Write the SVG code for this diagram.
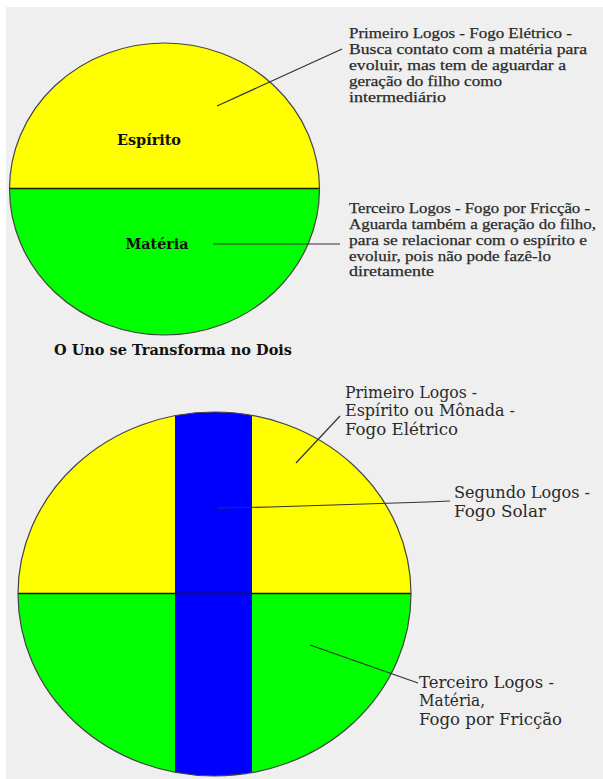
<svg xmlns="http://www.w3.org/2000/svg" width="603" height="779" viewBox="0 0 603 779">
  <style>
    .note { font-family: "Liberation Serif", "DejaVu Serif", serif; font-size: 15px; fill: #2a2a2a; stroke: #2a2a2a; stroke-width: 0.25; }
    .big { font-family: "DejaVu Serif", "Liberation Serif", serif; font-size: 16px; fill: #2a2a2a; }
    .bold { font-family: "DejaVu Serif", "Liberation Serif", serif; font-size: 14px; font-weight: bold; fill: #111; }
    .outline { fill: none; stroke: #444; stroke-width: 1.2; }
    .divider { stroke: #1a1a00; stroke-width: 1.5; }
    .leader { stroke: #333; stroke-width: 1.2; fill: none; }
  </style>
  <defs>
    <clipPath id="topClip"><ellipse cx="164.5" cy="189" rx="155" ry="146"/></clipPath>
    <clipPath id="botClip"><ellipse cx="214.5" cy="594" rx="196.5" ry="182"/></clipPath>
  </defs>
  <rect x="0" y="0" width="603" height="779" fill="#ffffff"/>
  <rect x="6" y="7" width="597" height="772" fill="#efefef"/>

  <g id="top-circle">
    <g clip-path="url(#topClip)">
      <rect x="0" y="40" width="330" height="149" fill="#ffff00"/>
      <rect x="0" y="189" width="330" height="150" fill="#00ff00"/>
    </g>
    <line class="divider" x1="9.5" y1="188.5" x2="319.5" y2="188.5"/>
    <ellipse class="outline" cx="164.5" cy="189" rx="155" ry="146"/>
    <text class="bold" x="149" y="145" text-anchor="middle" textLength="64" lengthAdjust="spacingAndGlyphs">Espírito</text>
    <text class="bold" x="157" y="249" text-anchor="middle" textLength="63" lengthAdjust="spacingAndGlyphs">Matéria</text>
  </g>

  <g id="title">
    <text class="bold" x="54" y="355" textLength="238" lengthAdjust="spacingAndGlyphs">O Uno se Transforma no Dois</text>
  </g>

  <g id="note-primeiro-top">
    <text class="note" x="349" y="38" textLength="223" lengthAdjust="spacingAndGlyphs">Primeiro Logos - Fogo Elétrico -</text>
    <text class="note" x="349" y="54" textLength="238" lengthAdjust="spacingAndGlyphs">Busca contato com a matéria para</text>
    <text class="note" x="349" y="70" textLength="217" lengthAdjust="spacingAndGlyphs">evoluir, mas tem de aguardar a</text>
    <text class="note" x="349" y="86" textLength="153" lengthAdjust="spacingAndGlyphs">geração do filho como</text>
    <text class="note" x="349" y="102" textLength="97" lengthAdjust="spacingAndGlyphs">intermediário</text>
  </g>

  <g id="note-terceiro-top">
    <text class="note" x="349" y="213" textLength="241" lengthAdjust="spacingAndGlyphs">Terceiro Logos - Fogo por Fricção -</text>
    <text class="note" x="349" y="229" textLength="247" lengthAdjust="spacingAndGlyphs">Aguarda também a geração do filho,</text>
    <text class="note" x="349" y="245" textLength="238" lengthAdjust="spacingAndGlyphs">para se relacionar com o espírito e</text>
    <text class="note" x="349" y="261" textLength="202" lengthAdjust="spacingAndGlyphs">evoluir, pois não pode fazê-lo</text>
    <text class="note" x="349" y="276" textLength="85" lengthAdjust="spacingAndGlyphs">diretamente</text>
  </g>

  <g id="bottom-circle">
    <g clip-path="url(#botClip)">
      <rect x="0" y="400" width="420" height="194" fill="#ffff00"/>
      <rect x="0" y="594" width="420" height="190" fill="#00ff00"/>
      <rect x="175" y="400" width="77" height="384" fill="#0000ff"/>
    </g>
    <line class="divider" x1="18" y1="593.5" x2="411" y2="593.5"/>
    <ellipse class="outline" cx="214.5" cy="594" rx="196.5" ry="182"/>
  </g>

  <g id="note-primeiro-bottom">
    <text class="big" x="345" y="398" textLength="132" lengthAdjust="spacingAndGlyphs">Primeiro Logos -</text>
    <text class="big" x="345" y="416" textLength="170" lengthAdjust="spacingAndGlyphs">Espírito ou Mônada -</text>
    <text class="big" x="345" y="435" textLength="113" lengthAdjust="spacingAndGlyphs">Fogo Elétrico</text>
  </g>

  <g id="note-segundo-bottom">
    <text class="big" x="454" y="498" textLength="136" lengthAdjust="spacingAndGlyphs">Segundo Logos -</text>
    <text class="big" x="454" y="517" textLength="92" lengthAdjust="spacingAndGlyphs">Fogo Solar</text>
  </g>

  <g id="note-terceiro-bottom">
    <text class="big" x="419" y="688" textLength="135" lengthAdjust="spacingAndGlyphs">Terceiro Logos -</text>
    <text class="big" x="419" y="706" textLength="66" lengthAdjust="spacingAndGlyphs">Matéria,</text>
    <text class="big" x="419" y="725" textLength="143" lengthAdjust="spacingAndGlyphs">Fogo por Fricção</text>
  </g>

  <g id="connectors">
    <line class="leader" x1="217" y1="106" x2="342" y2="49"/>
    <line class="leader" x1="213" y1="244" x2="340" y2="244"/>
    <line class="leader" x1="296" y1="463" x2="340" y2="416"/>
    <polyline class="leader" points="218,508 270,507 427,502 450,501"/>
    <line class="leader" x1="310" y1="645" x2="418" y2="683"/>
  </g>
</svg>
